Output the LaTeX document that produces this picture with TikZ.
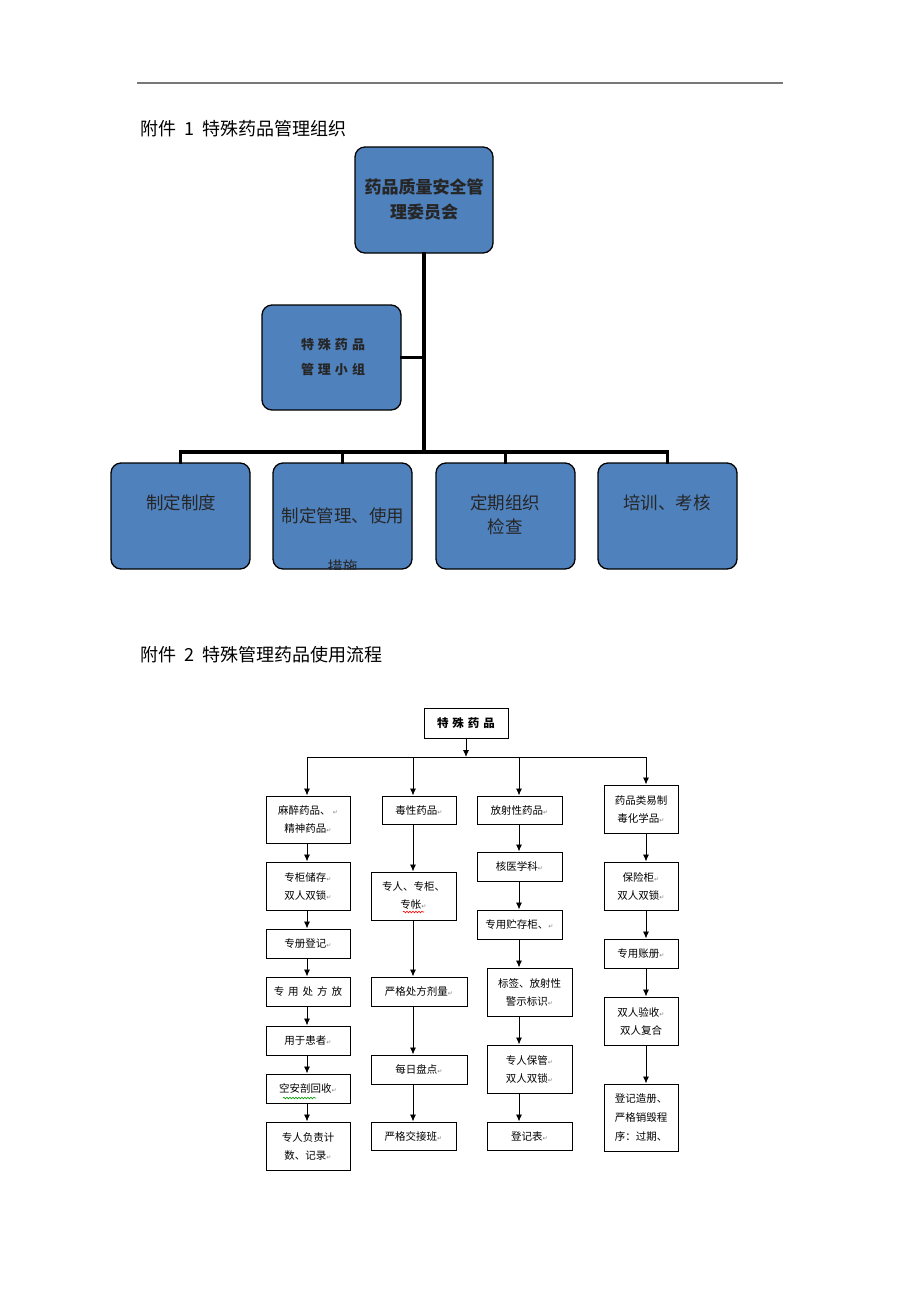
\documentclass[tikz,border=0pt]{standalone}
\usepackage{fontspec}
\setmainfont{Noto Sans CJK SC}
\newfontfamily\dejavu{DejaVu Sans}
\usetikzlibrary{arrows.meta,decorations.pathmorphing}
\definecolor{boxblue}{RGB}{79,129,189}
\definecolor{rulegray}{RGB}{120,120,120}
\newcommand\rt{{\dejavu\fontsize{6}{6}\selectfont\color{gray}↵}}
\newcommand\gp{\hspace{4pt}}
\newcommand\tg{\hspace{8pt}}
\tikzset{
  orgbox/.style={draw=black, line width=1.3, fill=boxblue, rounded corners=10pt,
    minimum width=139pt, minimum height=106pt, inner sep=0pt},
  orgtxt/.style={font=\fontsize{17.5}{24}\selectfont, text=black!85, align=center, inner sep=0pt},
  conn/.style={line width=3.5, black, line cap=rect},
  fbox/.style={draw=black, line width=1, fill=white, inner sep=0pt, align=center,
    font=\fontsize{10.5}{18}\selectfont},
  arr/.style={-{Latex[length=7pt,width=6pt]}, line width=0.9, black},
  ln/.style={line width=0.9, black},
  title/.style={font=\fontsize{18}{20}\selectfont, anchor=west, inner sep=0pt},
  wavy/.style={decorate, decoration={snake, segment length=3pt, amplitude=0.8pt}, line width=0.6}
}
\begin{document}
\begin{tikzpicture}[x=1pt,y=-1pt]
\useasboundingbox[fill=white] (0,0) rectangle (920,1302);
% top rule
\draw[rulegray, line width=1.5] (137,83) -- (783,83);
% titles
\node[title] (t1) at (140,129) {附件\tg 1\tg 特殊药品管理组织};
\node[title] (t2) at (140,655) {附件\tg 2\tg 特殊管理药品使用流程};

% ---------- Section 1 ----------
\node[orgbox, minimum width=138pt] (top) at (424,200) {};
\node[orgtxt, font=\bfseries\fontsize{17}{25}\selectfont] (toptxt) at (424,200) {药品质量安全管\\理委员会};
\node[orgbox, minimum height=105pt] (mid) at (331.5,357.5) {};
\node[orgtxt, font=\bfseries\fontsize{13}{25}\selectfont] (midtxt) at (333,357.5) {特\gp 殊\gp 药\gp 品\\管\gp 理\gp 小\gp 组};
\node[orgbox] (b1) at (180.5,516) {};
\node[orgbox] (b2) at (342.5,516) {};
\node[orgbox] (b3) at (505.5,516) {};
\node[orgbox] (b4) at (667.5,516) {};
\node[orgtxt] (b1t) at (181,503) {制定制度};
\node[orgtxt] (b2t) at (343,516) {制定管理、使用};
\begin{scope}
  \clip[rounded corners=10pt] (273,463) rectangle (412,569);
  \node[orgtxt, font=\fontsize{15}{20}\selectfont] (b2t2) at (342.5,567) {措施};
\end{scope}
\node[orgtxt] (b3t) at (505,515) {定期组织\\检查};
\node[orgtxt] (b4t) at (667,503) {培训、考核};
\coordinate (bar) at (424,452);
\draw[conn] (top.south) -- (top.south |- bar);
\draw[conn] (mid.east) -- (mid.east -| bar);
\draw[conn] (b1.north |- bar) -- (b4.north |- bar);
\draw[conn] (b1.north |- bar) -- (b1.north);
\draw[conn] (b2.north |- bar) -- (b2.north);
\draw[conn] (b3.north |- bar) -- (b3.north);
\draw[conn] (b4.north |- bar) -- (b4.north);

% ---------- Section 2 ----------
\node[fbox, minimum width=84pt, minimum height=30pt, font=\bfseries\fontsize{11.5}{14}\selectfont] (ft) at (466,723) {特\gp 殊\gp 药\gp 品};
\coordinate (hl) at (466,757);
\coordinate (col1) at (307,0);
\coordinate (col2) at (413,0);
\coordinate (col3) at (519,0);
\coordinate (col4) at (646,0);

% column 1
\node[fbox, minimum width=84pt, minimum height=47pt] (c1a) at (308,819.5) {麻醉药品、 \rt\\精神药品\rt};
\node[fbox, minimum width=84pt, minimum height=48pt] (c1b) at (308,886) {专柜储存\rt\\双人双锁\rt};
\node[fbox, minimum width=84pt, minimum height=29pt] (c1c) at (308,943.5) {专册登记\rt};
\node[fbox, minimum width=84pt, minimum height=29pt] (c1d) at (308,991.5) {专\gp 用\gp 处\gp 方\gp 放};
\node[fbox, minimum width=84pt, minimum height=29pt] (c1e) at (308,1040.5) {用于患者\rt};
\node[fbox, minimum width=84pt, minimum height=29pt] (c1f) at (308,1088.5) {空安剖回收\rt};
\node[fbox, minimum width=84pt, minimum height=48pt] (c1g) at (308,1146) {专人负责计\\数、记录\rt};
% column 2
\node[fbox, minimum width=74pt, minimum height=28pt] (c2a) at (419,810) {毒性药品\rt};
\node[fbox, minimum width=85pt, minimum height=48pt] (c2b) at (413.5,896) {专人、专柜、\\专帐\rt};
\node[fbox, minimum width=96pt, minimum height=29pt] (c2c) at (419,991.5) {严格处方剂量\rt};
\node[fbox, minimum width=96pt, minimum height=29pt] (c2d) at (419,1069.5) {每日盘点\rt};
\node[fbox, minimum width=85pt, minimum height=28pt] (c2e) at (413.5,1136) {严格交接班\rt};
% column 3
\node[fbox, minimum width=85pt, minimum height=28pt] (c3a) at (519.5,810) {放射性药品\rt};
\node[fbox, minimum width=85pt, minimum height=29pt] (c3b) at (519.5,866.5) {核医学科\rt};
\node[fbox, minimum width=85pt, minimum height=29pt] (c3c) at (519.5,924.5) {专用贮存柜、\rt};
\node[fbox, minimum width=85pt, minimum height=48pt] (c3d) at (529.5,992) {标签、放射性\\警示标识\rt};
\node[fbox, minimum width=85pt, minimum height=48pt] (c3e) at (529.5,1069) {专人保管\rt\\双人双锁\rt};
\node[fbox, minimum width=85pt, minimum height=28pt] (c3f) at (529.5,1136) {登记表\rt};
% column 4
\node[fbox, minimum width=74pt, minimum height=48pt] (c4a) at (641,809) {药品类易制\\毒化学品\rt};
\node[fbox, minimum width=74pt, minimum height=48pt] (c4b) at (641,886) {保险柜\rt\\双人双锁\rt};
\node[fbox, minimum width=74pt, minimum height=29pt] (c4c) at (641,953.5) {专用账册\rt};
\node[fbox, minimum width=74pt, minimum height=48pt] (c4d) at (641,1021) {双人验收\rt\\双人复合};
\node[fbox, minimum width=74pt, minimum height=67pt, font=\fontsize{10.5}{19}\selectfont] (c4e) at (641,1117.5) {登记造册、\\严格销毁程\\序：过期、};

% spell-check marks
\draw[wavy, green!60!black] (283,1098) -- (316,1098);
\draw[wavy, red] (403,912) -- (424,912);

% connectors
\draw[arr] (ft.south) -- (hl);
\draw[ln] (hl -| col1) -- (hl -| col4);
\draw[arr] (hl -| col1) -- (c1a.north -| col1);
\draw[arr] (hl -| col2) -- (c2a.north -| col2);
\draw[arr] (hl -| col3) -- (c3a.north -| col3);
\draw[arr] (hl -| col4) -- (c4a.north -| col4);

\draw[arr] (c1a.south -| col1) -- (c1b.north -| col1);
\draw[arr] (c1b.south -| col1) -- (c1c.north -| col1);
\draw[arr] (c1c.south -| col1) -- (c1d.north -| col1);
\draw[arr] (c1d.south -| col1) -- (c1e.north -| col1);
\draw[arr] (c1e.south -| col1) -- (c1f.north -| col1);
\draw[arr] (c1f.south -| col1) -- (c1g.north -| col1);

\draw[arr] (c2a.south -| col2) -- (c2b.north -| col2);
\draw[arr] (c2b.south -| col2) -- (c2c.north -| col2);
\draw[arr] (c2c.south -| col2) -- (c2d.north -| col2);
\draw[arr] (c2d.south -| col2) -- (c2e.north -| col2);

\draw[arr] (c3a.south -| col3) -- (c3b.north -| col3);
\draw[arr] (c3b.south -| col3) -- (c3c.north -| col3);
\draw[arr] (c3c.south -| col3) -- (c3d.north -| col3);
\draw[arr] (c3d.south -| col3) -- (c3e.north -| col3);
\draw[arr] (c3e.south -| col3) -- (c3f.north -| col3);

\draw[arr] (c4a.south -| col4) -- (c4b.north -| col4);
\draw[arr] (c4b.south -| col4) -- (c4c.north -| col4);
\draw[arr] (c4c.south -| col4) -- (c4d.north -| col4);
\draw[arr] (c4d.south -| col4) -- (c4e.north -| col4);
\end{tikzpicture}
\end{document}
